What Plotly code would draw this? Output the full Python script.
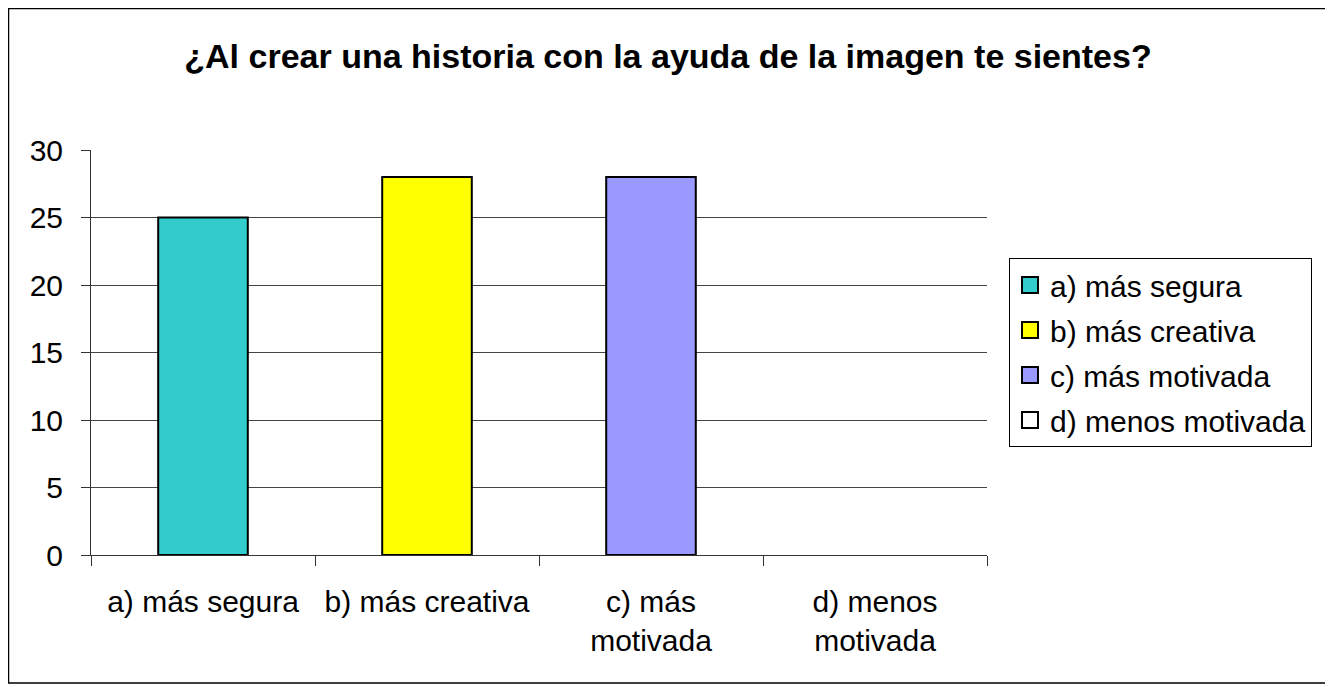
import plotly.graph_objects as go

# data
categories = ["a) más segura", "b) más creativa", "c) más motivada", "d) menos motivada"]
tick_labels = ["a) más segura", "b) más creativa", "c) más<br>motivada", "d) menos<br>motivada"]
values = [25, 28, 28, 0]
colors = ["#33CCCC", "#FFFF00", "#9999FF", "#FFFFFF"]

# page has an 8px body margin, so the figure is a bit smaller than the window
W, H = 1325, 679
L, R, T, B = 83, 346, 142, 132
pw, ph = W - L - R, H - T - B

fig = go.Figure()
for cat, lab, val, col in zip(categories, tick_labels, values, colors):
    fig.add_trace(go.Bar(
        x=[lab], y=[val], name=cat, showlegend=False,
        marker=dict(color=col, line=dict(color="black", width=2 if val > 0 else 0)),
        width=0.4,
    ))
    # legend entry with a bigger square swatch than the default bar one
    fig.add_trace(go.Scatter(
        x=[lab], y=[None], name=cat, legendgroup=cat, mode="markers",
        marker=dict(symbol="square", size=16, color=col, line=dict(color="black", width=2)),
        hoverinfo="skip",
    ))

fig.update_layout(
    width=W, height=H,
    margin=dict(l=L, r=R, t=T, b=B, autoexpand=False),
    paper_bgcolor="white", plot_bgcolor="white",
    barmode="overlay",
    font=dict(family="Arial, Liberation Sans, sans-serif", size=30, color="black"),
    title=dict(text="<b>¿Al crear una historia con la ayuda de la imagen te sientes?</b>",
               x=(668 - 8) / W, xanchor="center", y=1 - 48 / H, yanchor="middle",
               font=dict(size=34)),
    legend=dict(x=(1001 - L) / pw, y=(547 - 250) / ph, xanchor="left", yanchor="top",
                bordercolor="black", borderwidth=1, bgcolor="white",
                font=dict(size=30), tracegroupgap=3, itemwidth=30,
                itemsizing="trace"),
    showlegend=True,
)
fig.update_xaxes(
    type="category", tickson="boundaries", ticks="outside", ticklen=10,
    tickcolor="#333", showgrid=False, showline=True, linecolor="#333",
    ticklabelstandoff=20,
)
fig.update_yaxes(
    range=[0, 30], dtick=5, ticks="outside", ticklen=9, tickcolor="#333",
    showgrid=True, gridcolor="#444", gridwidth=1, showline=True, linecolor="#333",
    zeroline=False, ticklabelstandoff=12,
)

# outer chart border
fig.add_shape(type="rect", xref="paper", yref="paper",
              x0=(0.5 - L) / pw, x1=(W - 1.5 - L) / pw,
              y0=-(B - 4) / ph, y1=1 + (T - 0.5) / ph,
              line=dict(color="black", width=1.5), fillcolor="rgba(0,0,0,0)", layer="below")

fig.write_html("out.html")
